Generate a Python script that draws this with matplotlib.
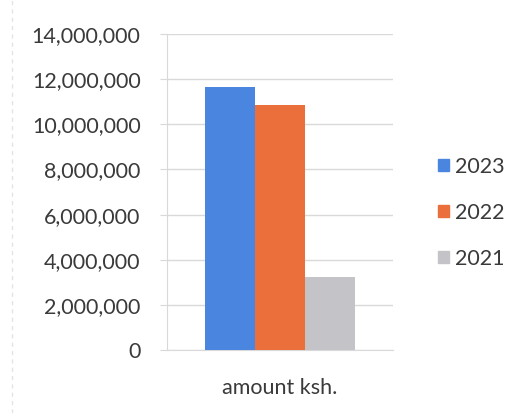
import matplotlib
matplotlib.use("Agg")
import matplotlib.pyplot as plt
from matplotlib.ticker import FuncFormatter
from matplotlib.patches import Patch

categories = ["amount ksh."]
series_names = ["2023", "2022", "2021"]
values_2023 = [11650000]
values_2022 = [10850000]
values_2021 = [3230000]
colors = ["#4a86e0", "#ea6f3a", "#c3c3c8"]
yticks = [0, 2000000, 4000000, 6000000, 8000000, 10000000, 12000000, 14000000]

plt.rcParams['font.family'] = ['Lato', 'DejaVu Sans']
txt = "#3a3a3a"

fig = plt.figure(figsize=(5.3, 4.13), dpi=100)
ax = fig.add_axes([0.315, 0.1525, 0.427, 0.765])

w = 0.22
allvals = [values_2023, values_2022, values_2021]
x0 = 0.0
for i, (name, vals, c) in enumerate(zip(series_names, allvals, colors)):
    ax.bar([x0 + (i - 1) * w], vals, width=w, color=c, label=name, zorder=3)

ax.set_xlim(-0.5, 0.5)
ax.set_ylim(0, 14000000)
ax.set_yticks(yticks)
ax.yaxis.set_major_formatter(FuncFormatter(lambda v, p: f"{int(v):,}"))
ax.set_xticks([0])
ax.set_xticklabels(categories)
ax.grid(axis="y", color="#d9d9d9", linewidth=1, zorder=0)
for s in ["top", "right"]:
    ax.spines[s].set_visible(False)
ax.spines["left"].set_color("#d9d9d9")
ax.spines["bottom"].set_color("#d9d9d9")
ax.tick_params(axis="y", length=5, color="#d9d9d9", labelsize=15.5, labelcolor=txt, pad=14)
ax.tick_params(axis="x", length=0, labelsize=15.5, labelcolor=txt, pad=20)

# faint left border as in the reference
fig.add_artist(plt.Line2D([0.023, 0.023], [0.0, 1.0], color="#e4e4e4", linewidth=1,
                          linestyle=(0, (3, 3)), transform=fig.transFigure))

handles = [Patch(color=c, label=n) for n, c in zip(series_names, colors)]
fig.legend(handles=handles, loc="center left", bbox_to_anchor=(0.79, 0.485),
           frameon=False, fontsize=15.5, handlelength=0.5, handleheight=0.5,
           handletextpad=0.3, labelspacing=1.2, labelcolor=txt)

fig.savefig("out.png", dpi=100)
